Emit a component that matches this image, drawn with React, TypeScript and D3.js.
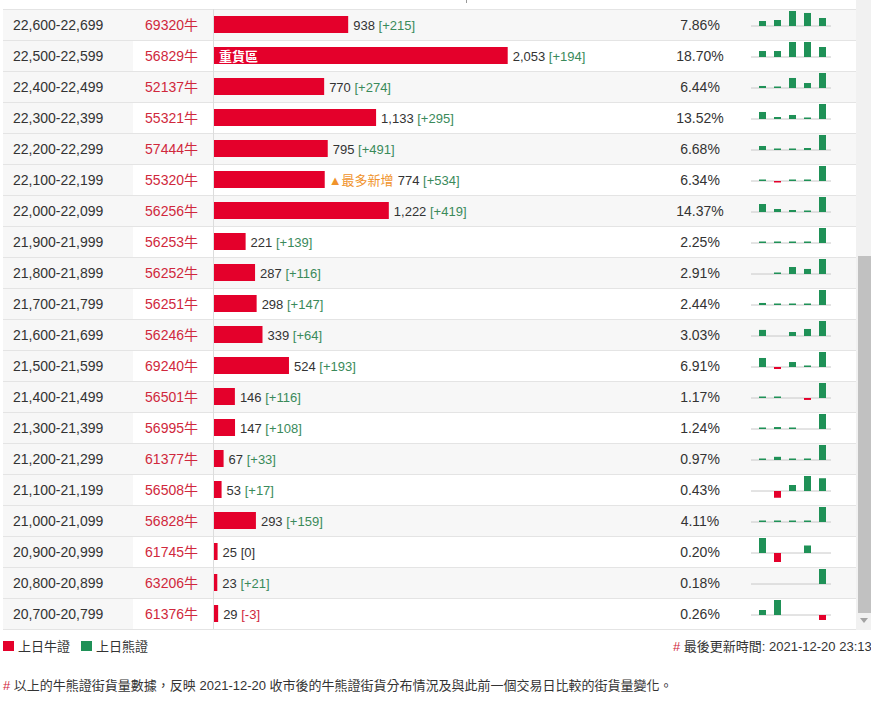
import React from "react";
import * as d3 from "d3";

const ranges = [
  "22,600-22,699", "22,500-22,599", "22,400-22,499", "22,300-22,399", "22,200-22,299",
  "22,100-22,199", "22,000-22,099", "21,900-21,999", "21,800-21,899", "21,700-21,799",
  "21,600-21,699", "21,500-21,599", "21,400-21,499", "21,300-21,399", "21,200-21,299",
  "21,100-21,199", "21,000-21,099", "20,900-20,999", "20,800-20,899", "20,700-20,799",
];
const codes = [
  "69320", "56829", "52137", "55321", "57444", "55320", "56256", "56253", "56252", "56251",
  "56246", "69240", "56501", "56995", "61377", "56508", "56828", "61745", "63206", "61376",
];
const values = [938, 2053, 770, 1133, 795, 774, 1222, 221, 287, 298, 339, 524, 146, 147, 67, 53, 293, 25, 23, 29];
const changes = [215, 194, 274, 295, 491, 534, 419, 139, 116, 147, 64, 193, 116, 108, 33, 17, 159, 0, 21, -3];
const percents = ["7.86%", "18.70%", "6.44%", "13.52%", "6.68%", "6.34%", "14.37%", "2.25%", "2.91%", "2.44%",
  "3.03%", "6.91%", "1.17%", "1.24%", "0.97%", "0.43%", "4.11%", "0.20%", "0.18%", "0.26%"];
const history = [
  [134, 161, 403, 350, 215],
  [116, 116, 291, 291, 194],
  [37, 18, 183, 91, 274],
  [138, 39, 79, 20, 295],
  [131, 33, 33, 65, 491],
  [36, -53, 36, 36, 534],
  [223, 84, 56, 28, 419],
  [9, 9, 9, 9, 139],
  [0, 8, 54, 39, 116],
  [20, 10, 10, 10, 147],
  [26, 0, 17, 30, 64],
  [116, -26, 64, 13, 193],
  [8, 8, 0, -15, 116],
  [7, 14, 7, 0, 108],
  [2, 7, 2, 2, 33],
  [0, -9, 8, 20, 17],
  [11, 11, 11, 11, 159],
  [10, -6, 0, 5, 0],
  [0, 0, 0, 0, 21],
  [3, 9, 0, 0, -3],
];
const heavyRow = 1;
const mostNewRow = 5;

const W = 871;
const H = 706;
const FONT = "'Liberation Sans', Arial, 'Noto Sans CJK TC', sans-serif";
const CJK = "'Liberation Sans', Arial, 'Noto Sans CJK TC', sans-serif";
const RED = "#e4002b";
const CODE_RED = "#d0283c";
const GREEN_TXT = "#3a8a5a";
const SPARK_GREEN = "#1f9157";
const TXT = "#333";
const STRIPE = "#f7f7f7";

export default function App() {
  const y = d3.scaleBand<string>().domain(ranges).range([9, 9 + 31 * ranges.length]).padding(0);
  const rowH = y.bandwidth();
  const x = d3.scaleLinear().domain([0, 2053]).range([0, 293.7]);
  const barX0 = 214;
  const sx = d3.scalePoint<number>().domain([0, 1, 2, 3, 4]).range([762.5, 822.5]);
  const tableRight = 856;
  const tableBottom = 9 + 31 * ranges.length;

  return (
    <svg width={W} height={H} style={{ display: "block", position: "absolute", left: 0, top: 0 }}
      fontFamily={FONT}>
      <rect x={0} y={0} width={W} height={H} fill="#fff" />
      {/* tiny header remnant */}
      <rect x={466} y={0} width={1} height={3} fill="#999" />
      {ranges.map((r, i) => {
        const top = y(r)!;
        const v = values[i];
        const c = changes[i];
        const bw = x(v);
        const hist = history[i];
        const maxAbs = d3.max(hist, (d) => Math.abs(d)) || 1;
        const hs = d3.scaleLinear().domain([0, maxAbs]).range([0, 15]);
        const base = top + 16.5;
        const labelX = barX0 + bw + 5;
        const cStr = c > 0 ? `[+${c}]` : `[${c}]`;
        const cColor = c > 0 ? GREEN_TXT : c < 0 ? CODE_RED : TXT;
        const valStr = d3.format(",")(v);
        const extraW = i === mostNewRow ? 68 : 0;
        return (
          <g key={r}>
            {i % 2 === 0 ? (
              <rect x={3} y={top} width={tableRight - 3} height={rowH} fill={STRIPE} />
            ) : (
              <rect x={3} y={top} width={130} height={rowH} fill={STRIPE} />
            )}
            <line x1={3} x2={tableRight} y1={top + 0.5} y2={top + 0.5} stroke="#e4e4e4" />
            <text x={13} y={top + 21} fontSize={14} fill={TXT}>{r}</text>
            <text x={198} y={top + 21} fontSize={14} fill={CODE_RED} textAnchor="end">{codes[i]}牛</text>
            <rect x={barX0} y={top + 7} width={bw} height={17} fill={RED} />
            {i === heavyRow && (
              <text x={219} y={top + 20.5} fontSize={13} fontWeight="bold" fill="#fff" fontFamily={CJK}>重貨區</text>
            )}
            {i === mostNewRow && (
              <text x={labelX - 1} y={top + 20.5} fontSize={13} fill="#f0932b" fontFamily={CJK}>▲最多新增</text>
            )}
            <text x={labelX + extraW} y={top + 20.5} fontSize={13} fill={TXT}>
              {valStr} <tspan fill={cColor}>{cStr}</tspan>
            </text>
            <text x={700} y={top + 21} fontSize={14} fill={TXT} textAnchor="middle">{percents[i]}</text>
            <line x1={751} x2={831} y1={base + 0.5} y2={base + 0.5} stroke="#c8c8c8" />
            {hist.map((d, k) => {
              if (d === 0) return null;
              const h = Math.max(1.5, hs(Math.abs(d)));
              return (
                <rect key={k} x={sx(k)! - 3.5} y={d > 0 ? base - h + 0.5 : base + 0.5} width={7} height={h}
                  fill={d > 0 ? SPARK_GREEN : RED} />
              );
            })}
          </g>
        );
      })}
      <line x1={3} x2={tableRight} y1={tableBottom + 0.5} y2={tableBottom + 0.5} stroke="#e4e4e4" />
      <line x1={213.5} x2={213.5} y1={9} y2={tableBottom} stroke="#dcdcdc" />

      {/* scrollbar */}
      <rect x={856} y={0} width={15} height={630} fill="#f1f1f1" />
      <rect x={858} y={256} width={13} height={357} fill="#c1c1c1" />
      <path d="M860,618 L868,618 L864,623 Z" fill="#a3a3a3" />

      {/* legend */}
      <rect x={3} y={641} width={11} height={10} fill={RED} />
      <text x={18} y={651} fontSize={13} fill={TXT} fontFamily={CJK}>上日牛證</text>
      <rect x={81} y={641} width={11} height={10} fill={SPARK_GREEN} />
      <text x={96} y={651} fontSize={13} fill={TXT} fontFamily={CJK}>上日熊證</text>

      <text x={673} y={651} fontSize={13} fill={TXT} fontFamily={CJK}>
        <tspan fill={CODE_RED}>#</tspan> 最後更新時間: 2021-12-20 23:13
      </text>

      <text x={3} y={690} fontSize={13} fill={TXT} fontFamily={CJK}>
        <tspan fill={CODE_RED}>#</tspan> 以上的牛熊證街貨量數據，反映 2021-12-20 收市後的牛熊證街貨分布情況及與此前一個交易日比較的街貨量變化。
      </text>
    </svg>
  );
}
